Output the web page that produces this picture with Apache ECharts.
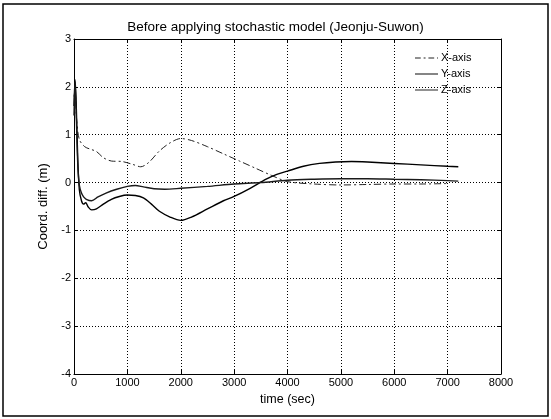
<!DOCTYPE html>
<html>
<head>
<meta charset="utf-8">
<script src="https://cdn.jsdelivr.net/npm/echarts@6/dist/echarts.min.js"></script>
<style>
  html, body { margin: 0; padding: 0; background: #fff; }
  #chart { width: 551px; height: 419px; }
</style>
</head>
<body>
<div id="chart"></div>
<script>
// (time in sec, coord diff in m)
const xTime = [0, 20, 50, 100, 200, 300, 420, 550, 700, 900, 1100, 1250, 1400, 1600, 1800, 2000, 2200, 2500, 2800, 3100, 3400, 3700, 4000, 4500, 5000, 5500, 6000, 6500, 7000]
const xVals = [1.8, 1.9, 1.3, 0.9, 0.75, 0.7, 0.65, 0.52, 0.45, 0.44, 0.38, 0.33, 0.42, 0.66, 0.83, 0.92, 0.88, 0.75, 0.6, 0.45, 0.3, 0.15, 0.02, -0.03, -0.05, -0.04, -0.03, -0.03, -0.02]

const yTime = [0, 20, 40, 70, 100, 140, 180, 220, 260, 330, 420, 550, 700, 850, 1000, 1150, 1300, 1450, 1600, 1800, 2000, 2200, 2500, 2800, 3000, 3300, 3600, 3800, 4000, 4300, 4600, 4900, 5200, 5500, 6000, 6500, 7000, 7200]
const yVals = [1.6, 2.15, 1.7, 0.5, -0.15, -0.38, -0.45, -0.42, -0.5, -0.57, -0.55, -0.45, -0.35, -0.29, -0.26, -0.27, -0.32, -0.45, -0.6, -0.72, -0.79, -0.72, -0.55, -0.38, -0.29, -0.12, 0.07, 0.17, 0.24, 0.34, 0.4, 0.43, 0.44, 0.43, 0.4, 0.37, 0.34, 0.33]

const zTime = [0, 20, 40, 70, 100, 140, 180, 230, 330, 450, 600, 800, 1000, 1150, 1300, 1500, 1700, 2000, 2500, 3000, 3500, 4000, 4500, 5000, 5500, 6000, 6500, 7000, 7200]
const zVals = [1.4, 2.1, 1.5, 0.4, -0.05, -0.22, -0.3, -0.35, -0.38, -0.3, -0.22, -0.14, -0.08, -0.06, -0.09, -0.13, -0.14, -0.12, -0.08, -0.03, 0.0, 0.05, 0.07, 0.08, 0.08, 0.07, 0.06, 0.04, 0.03]

const seriesNames = ['X-axis', 'Y-axis', 'Z-axis']

const pair = (ts, vs) => ts.map((t, i) => [t, vs[i]])

const chart = echarts.init(document.getElementById('chart'))
const font = 'Liberation Sans, Arial, sans-serif'
const gridLine = { show: true, lineStyle: { color: '#000', type: [1, 2], width: 1 } }

// legend icons: plain strokes, the first one dash-dot
const dashIcon = 'path://M0,0h6v1h-6z M9,0h2v1h-2z M14,0h6v1h-6z M23,0h1v1h-1z'
const solidIcon = 'path://M0,0h24v1h-24z'

chart.setOption({
  animation: false,
  backgroundColor: '#fff',
  textStyle: { fontFamily: font, color: '#000' },
  title: {
    text: 'Before applying stochastic model (Jeonju-Suwon)',
    left: 'center',
    top: 15,
    textStyle: { fontSize: 13.5, fontWeight: 'normal', color: '#000', fontFamily: font }
  },
  legend: {
    orient: 'vertical',
    left: 410,
    top: 47,
    itemGap: 4,
    itemWidth: 23,
    itemHeight: 2,
    data: [
      { name: seriesNames[0], icon: dashIcon },
      { name: seriesNames[1], icon: solidIcon },
      { name: seriesNames[2], icon: solidIcon }
    ],
    textStyle: { fontSize: 11, color: '#000', fontFamily: font, padding: [0, 0, 0, -2], lineHeight: 12 }
  },
  grid: { left: 74, right: 50, top: 39, bottom: 45 },
  xAxis: [
    {
      type: 'value', min: 0, max: 8000, interval: 1000,
      name: 'time (sec)', nameLocation: 'middle', nameGap: 17,
      nameTextStyle: { fontSize: 12.5, color: '#000', fontFamily: font },
      axisLine: { onZero: false, lineStyle: { color: '#000' } },
      axisTick: { inside: true, length: 4, lineStyle: { color: '#000' } },
      axisLabel: { fontSize: 11, color: '#000', margin: 3, fontFamily: font, formatter: v => String(v) },
      splitLine: gridLine
    },
    {
      type: 'value', min: 0, max: 8000, interval: 1000, position: 'top',
      axisLine: { onZero: false, lineStyle: { color: '#000' } },
      axisTick: { inside: true, length: 4, lineStyle: { color: '#000' } },
      axisLabel: { show: false }, splitLine: { show: false }
    }
  ],
  yAxis: [
    {
      type: 'value', min: -4, max: 3, interval: 1,
      name: 'Coord. diff. (m)', nameLocation: 'middle', nameGap: 18,
      nameTextStyle: { fontSize: 13, color: '#000', fontFamily: font },
      axisLine: { show: true, onZero: false, lineStyle: { color: '#000' } },
      axisTick: { show: true, inside: true, length: 4, lineStyle: { color: '#000' } },
      axisLabel: { fontSize: 11, color: '#000', margin: 3, fontFamily: font },
      splitLine: gridLine
    },
    {
      type: 'value', min: -4, max: 3, interval: 1, position: 'right',
      axisLine: { show: true, onZero: false, lineStyle: { color: '#000' } },
      axisTick: { show: true, inside: true, length: 4, lineStyle: { color: '#000' } },
      axisLabel: { show: false }, splitLine: { show: false }
    }
  ],
  graphic: [
    {
      type: 'rect',
      shape: { x: 3, y: 4, width: 545, height: 412 },
      style: { fill: 'none', stroke: '#000', lineWidth: 1.5 },
      silent: true
    }
  ],
  series: [
    {
      name: seriesNames[0], type: 'line', symbol: 'none', smooth: 0.3,
      data: pair(xTime, xVals),
      lineStyle: { color: '#222', width: 1, type: [7, 3, 2, 3] },
      itemStyle: { color: '#222' }
    },
    {
      name: seriesNames[1], type: 'line', symbol: 'none', smooth: 0.3,
      data: pair(yTime, yVals),
      lineStyle: { color: '#000', width: 1.4 },
      itemStyle: { color: '#000' }
    },
    {
      name: seriesNames[2], type: 'line', symbol: 'none', smooth: 0.3,
      data: pair(zTime, zVals),
      lineStyle: { color: '#1a1a1a', width: 1.4 },
      itemStyle: { color: '#1a1a1a' }
    }
  ]
})
</script>
</body>
</html>
